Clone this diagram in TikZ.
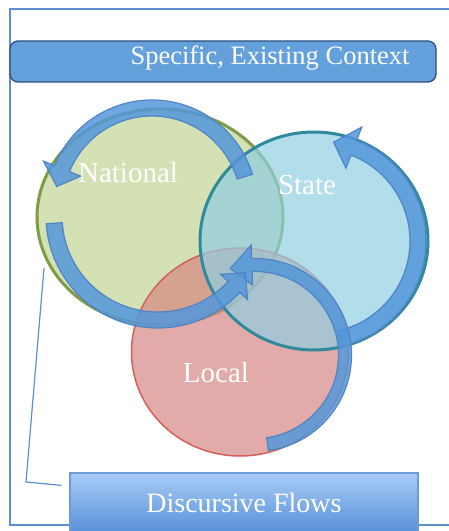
\documentclass[tikz,border=0pt]{standalone}
\usepackage{fontspec}
\setmainfont{Liberation Serif}
\usepackage{tikz}
\usetikzlibrary{shapes.geometric, arrows.meta, positioning, calc}
\definecolor{frameblue}{RGB}{91,143,208}
\definecolor{bannerfill}{RGB}{100,160,220}
\definecolor{banneredge}{RGB}{47,79,122}
\definecolor{nationalfill}{RGB}{212,225,181}
\definecolor{nationaledge}{RGB}{126,155,69}
\definecolor{statefill}{RGB}{146,206,225}
\definecolor{stateedge}{RGB}{47,138,156}
\definecolor{localfill}{RGB}{214,134,131}
\definecolor{localedge}{RGB}{213,96,90}
\definecolor{flowfill}{RGB}{84,151,218}
\definecolor{flowedge}{RGB}{79,132,198}
\definecolor{boxtop}{RGB}{168,203,246}
\definecolor{boxbottom}{RGB}{88,146,216}

% curved block arrow: centre, radius, tail angle, head base angle, tip angle, half band, half head
\newcommand{\flowarc}[7]{%
  \filldraw[flow, shift={(#1)}]
    (#3:#2+#6) arc[start angle=#3, end angle=#4, radius=#2+#6]
    -- (#4:#2+#7) -- (#5:#2) -- (#4:#2-#7) -- (#4:#2-#6)
    arc[start angle=#4, end angle=#3, radius=#2-#6] -- cycle;
}

\begin{document}
\begin{tikzpicture}[x=1pt, y=1pt,
    flow/.style={fill=flowfill, fill opacity=0.85, draw=flowedge, line width=1.2pt},
    sphere/.style={ellipse, inner sep=0pt},
    circlelabel/.style={text=white, font=\fontsize{29}{30}\selectfont, anchor=base}]
  \useasboundingbox (0,0) rectangle (448,531);

  % outer frame
  \draw[frameblue, line width=1.5pt] (10,6) rectangle (455,522);

  % context banner
  \node[draw=banneredge, fill=bannerfill, line width=1.3pt, rounded corners=8pt,
        minimum width=426, minimum height=41, inner sep=0pt] (context) at (223,469.5) {};
  \node[text=white, font=\fontsize{26.5}{28}\selectfont] (contexttext) at (270,473) {Specific, Existing Context};

  % the three levels
  \node[sphere, fill=nationalfill, draw=nationaledge, line width=3pt,
        minimum width=246, minimum height=216] (national) at (160,314) {};
  \node[sphere, fill=localfill, fill opacity=0.7, draw=localedge, line width=1.5pt,
        minimum width=217, minimum height=208] (local) at (240,179) {};
  \node[sphere, fill=statefill, fill opacity=0.7, draw=stateedge, line width=3pt,
        minimum width=228, minimum height=218] (state) at (314,290) {};

  \node[circlelabel] (nationaltext) at (128,348) {National};
  \node[circlelabel] (statetext) at (307,336) {State};
  \node[circlelabel] (localtext) at (216,148) {Local};

  % flows between the levels
  \flowarc{318,290}{100}{-78}{69}{81}{8}{22}
  \flowarc{255,176}{90}{-82}{92}{106}{6.5}{20}
  \flowarc{152,326}{97}{17}{158}{169}{8}{20}
  \flowarc{158,315}{104}{184}{317}{327}{8}{18.5}

  % caption box and its pointer
  \node[draw=frameblue!90, line width=1.2pt, top color=boxtop, bottom color=boxbottom,
        text=white, font=\fontsize{28}{30}\selectfont,
        minimum width=348, minimum height=59] (flows) at (244,28.5) {Discursive Flows};
  \coordinate (pointer) at (44,263);
  \draw[frameblue, line width=1.2pt] ($(flows.north west)+(-8,-13)$) -- (26,49) -- (pointer);
\end{tikzpicture}
\end{document}
